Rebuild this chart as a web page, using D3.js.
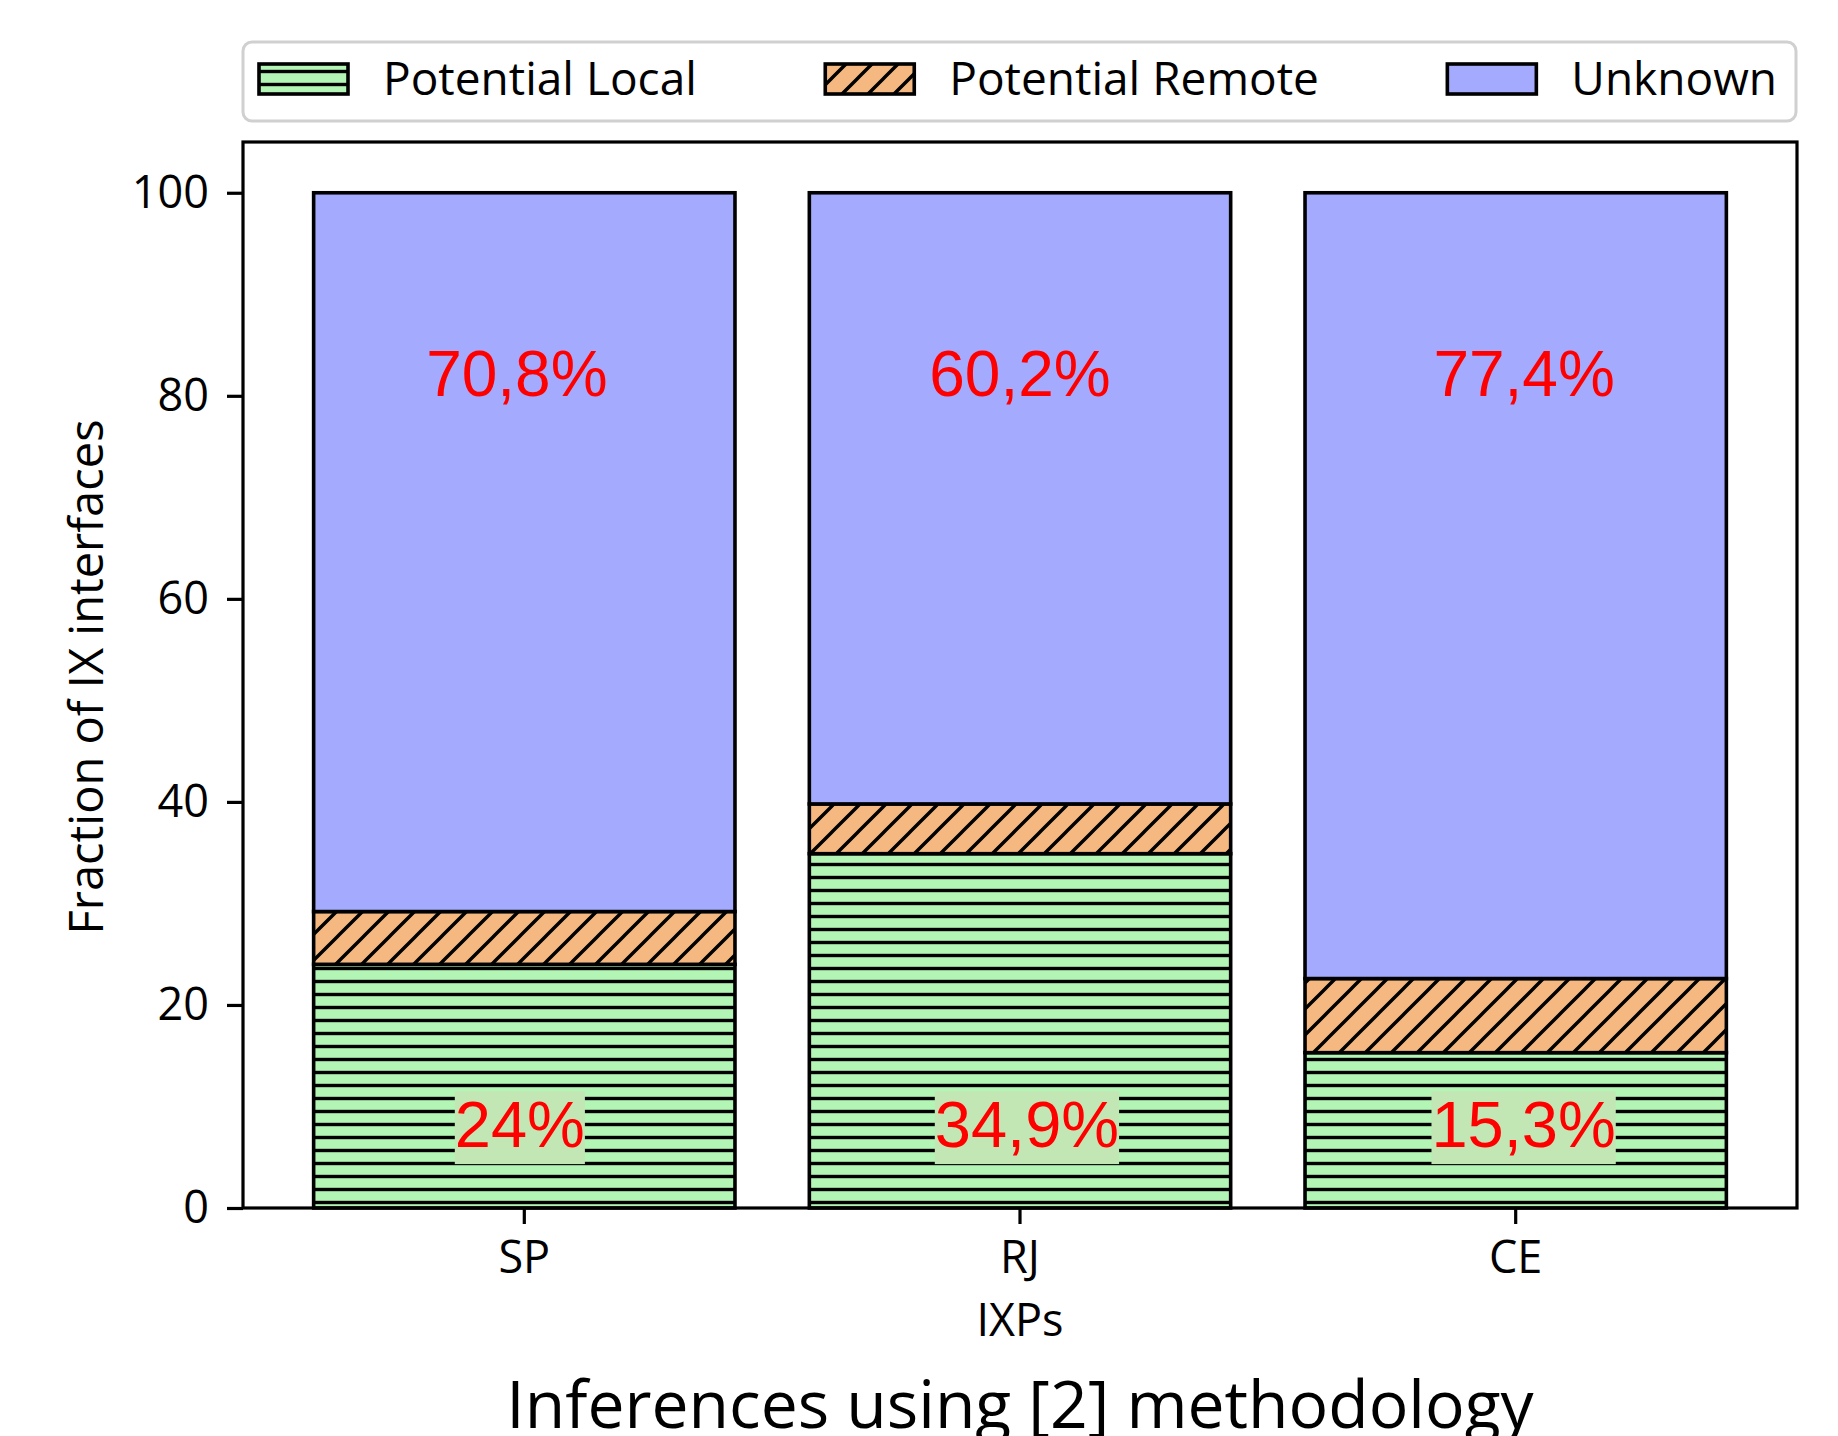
<!DOCTYPE html>
<html>
<head>
<meta charset="utf-8">
<script src="https://cdn.jsdelivr.net/npm/d3@7"></script>
<style>
  html, body { margin: 0; padding: 0; background: #ffffff; }
  svg { display: block; }
</style>
</head>
<body>
<svg id="chart" width="1838" height="1436"></svg>
<script>
// IXP categories and the share (%) of IX interfaces in each inference class
const categories   = ["SP", "RJ", "CE"];
const localVals    = [24.0, 34.9, 15.3];
const remoteVals   = [5.2, 4.9, 7.3];
const unknownVals  = [70.8, 60.2, 77.4];
const seriesKeys   = ["local", "remote", "unknown"];
const seriesNames  = ["Potential Local", "Potential Remote", "Unknown"];
const yTickValues  = [0, 20, 40, 60, 80, 100];
const yLabel = "Fraction of IX interfaces";
const xLabel = "IXPs";
const title  = "Inferences using [2] methodology";

const rows = categories.map((c, i) => ({
  ixp: c, local: localVals[i], remote: remoteVals[i], unknown: unknownVals[i]
}));

const W = 1838, H = 1436;
const plot = { left: 243, right: 1797, top: 142, bottom: 1208 };
const FONT = "'Open Sans', 'DejaVu Sans', sans-serif";
const LABEL_FONT = "'Liberation Sans', Arial, sans-serif";
const colors = { local: "#b2f5b5", remote: "#f5b880", unknown: "#a4aafd" };

// small horizontal nudges of the percentage annotations (fraction of band step)
const nudgeTop    = { SP: -0.015, RJ: 0.0,   CE: 0.017 };
const nudgeBottom = { SP: -0.009, RJ: 0.014, CE: 0.016 };

const svg = d3.select("#chart");
svg.append("rect").attr("width", W).attr("height", H).attr("fill", "#ffffff");

// hatch patterns
const defs = svg.append("defs");
const hp = defs.append("pattern").attr("id", "hatch-local")
  .attr("patternUnits", "userSpaceOnUse").attr("width", 20).attr("height", 13);
hp.append("rect").attr("width", 20).attr("height", 13).attr("fill", colors.local);
hp.append("line").attr("x1", 0).attr("x2", 20).attr("y1", 6.5).attr("y2", 6.5)
  .attr("stroke", "#000").attr("stroke-width", 3.4);

const dp = defs.append("pattern").attr("id", "hatch-remote")
  .attr("patternUnits", "userSpaceOnUse").attr("width", 26).attr("height", 26);
dp.append("rect").attr("width", 26).attr("height", 26).attr("fill", colors.remote);
dp.append("path").attr("d", "M-6.5,6.5 l13,-13 M0,26 l26,-26 M19.5,32.5 l13,-13")
  .attr("stroke", "#000").attr("stroke-width", 3.4).attr("fill", "none");

const fills = {
  local: "url(#hatch-local)",
  remote: "url(#hatch-remote)",
  unknown: colors.unknown
};

// scales
const x = d3.scaleBand().domain(categories)
  .range([plot.left, plot.right])
  .paddingInner(0.15).paddingOuter(0.1425);
const y = d3.scaleLinear().domain([0, 105]).range([plot.bottom, plot.top]);

// stacked bars
const stacked = d3.stack().keys(seriesKeys)(rows);
const layers = svg.append("g").selectAll("g").data(stacked).join("g")
  .attr("fill", d => fills[d.key]);
layers.selectAll("rect").data(d => d).join("rect")
  .attr("x", d => x(d.data.ixp))
  .attr("width", x.bandwidth())
  .attr("y", d => y(d[1]))
  .attr("height", d => y(d[0]) - y(d[1]))
  .attr("stroke", "#000")
  .attr("stroke-width", 3.6);

// value labels
const fmt = v => (Number.isInteger(v) ? String(v) : v.toFixed(1).replace(".", ",")) + "%";
const labels = svg.append("g");
rows.forEach(r => {
  const cx = x(r.ixp) + x.bandwidth() / 2;
  // unknown share, upper part of each bar
  labels.append("text")
    .attr("x", cx + nudgeTop[r.ixp] * x.step()).attr("y", y(80))
    .attr("text-anchor", "middle")
    .attr("font-family", LABEL_FONT).attr("font-size", 64)
    .attr("fill", "#ff0000")
    .text(fmt(r.unknown));
  // local share, with a soft green box behind it
  const g = labels.append("g");
  const t = g.append("text")
    .attr("x", cx + nudgeBottom[r.ixp] * x.step()).attr("y", y(6))
    .attr("text-anchor", "middle")
    .attr("font-family", LABEL_FONT).attr("font-size", 65)
    .attr("fill", "#ff0000")
    .text(fmt(r.local));
  const bb = t.node().getBBox();
  g.insert("rect", "text")
    .attr("x", bb.x).attr("y", bb.y + 3)
    .attr("width", bb.width).attr("height", bb.height)
    .attr("fill", "#c2e7b4");
});

// axes
const yAxis = svg.append("g").attr("transform", `translate(${plot.left},0)`)
  .call(d3.axisLeft(y).tickValues(yTickValues).tickSize(16).tickPadding(18));
const xAxis = svg.append("g").attr("transform", `translate(0,${plot.bottom})`)
  .call(d3.axisBottom(x).tickSize(16).tickPadding(17));
[yAxis, xAxis].forEach(a => {
  a.select(".domain").remove();
  a.selectAll(".tick line").attr("stroke", "#000").attr("stroke-width", 3.2);
  a.selectAll("text").attr("font-family", FONT).attr("font-size", 45).attr("fill", "#000");
});

// frame
svg.append("rect")
  .attr("x", plot.left).attr("y", plot.top)
  .attr("width", plot.right - plot.left).attr("height", plot.bottom - plot.top)
  .attr("fill", "none").attr("stroke", "#000").attr("stroke-width", 3.2);

// axis titles
svg.append("text")
  .attr("transform", `translate(103,${(plot.top + plot.bottom) / 2 + 2}) rotate(-90)`)
  .attr("text-anchor", "middle")
  .attr("font-family", FONT).attr("font-size", 47)
  .text(yLabel);
svg.append("text")
  .attr("x", (plot.left + plot.right) / 2).attr("y", 1336)
  .attr("text-anchor", "middle")
  .attr("font-family", FONT).attr("font-size", 45)
  .text(xLabel);
svg.append("text")
  .attr("x", (plot.left + plot.right) / 2).attr("y", 1428)
  .attr("text-anchor", "middle")
  .attr("font-family", FONT).attr("font-size", 66)
  .text(title);

// legend spanning the axes width
const legend = svg.append("g");
legend.append("rect")
  .attr("x", plot.left).attr("y", 42)
  .attr("width", plot.right - plot.left - 1).attr("height", 79)
  .attr("rx", 9).attr("ry", 9)
  .attr("fill", "#ffffff").attr("stroke", "#d0d0d0").attr("stroke-width", 3);
const handleW = 89, handleH = 30, gap = 35;
const innerL = 259, innerR = 1777, midY = 79;
const items = seriesKeys.map((k, i) => {
  const t = legend.append("text")
    .attr("font-family", FONT).attr("font-size", 46)
    .attr("y", midY + 16)
    .text(seriesNames[i]);
  return { key: k, text: t, w: t.node().getComputedTextLength() };
});
const used = d3.sum(items, d => handleW + gap + d.w);
const sep = (innerR - innerL - used) / (items.length - 1);
let cur = innerL;
items.forEach(d => {
  legend.insert("rect", "text")
    .attr("x", cur).attr("y", midY - handleH / 2)
    .attr("width", handleW).attr("height", handleH)
    .attr("fill", fills[d.key]).attr("stroke", "#000").attr("stroke-width", 3.6);
  d.text.attr("x", cur + handleW + gap);
  cur += handleW + gap + d.w + sep;
});
</script>
</body>
</html>
